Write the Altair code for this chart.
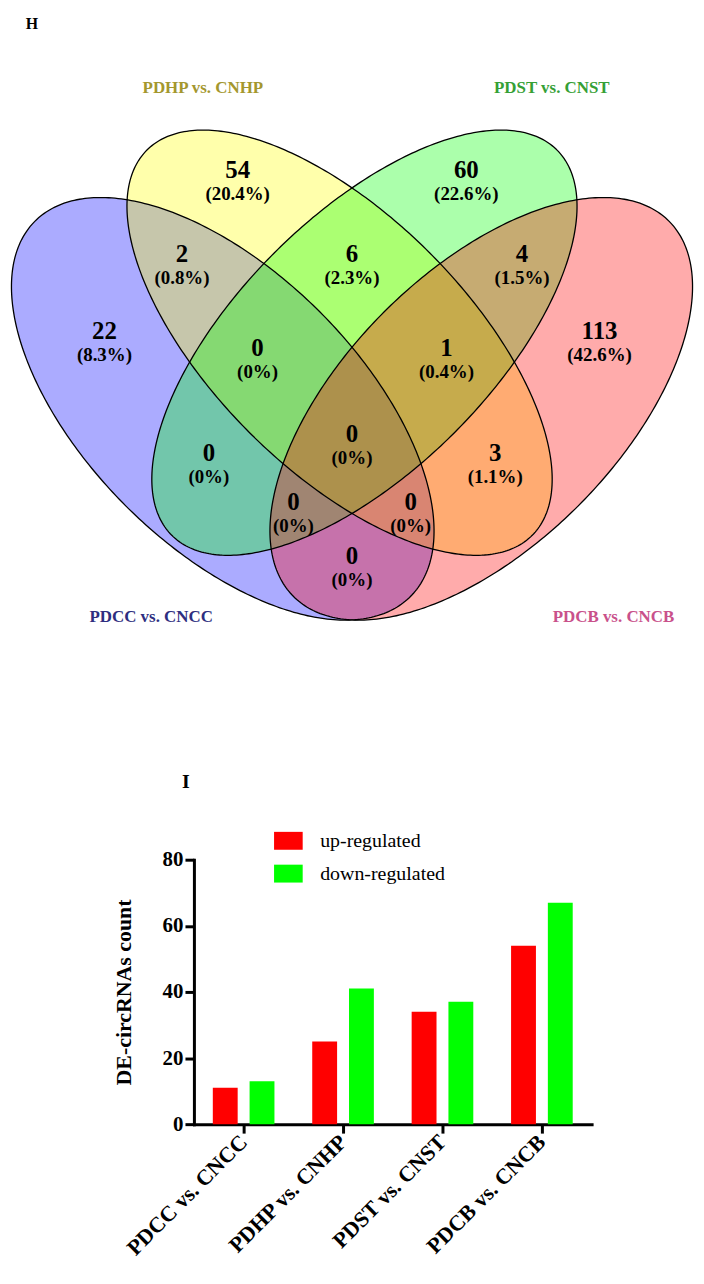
import altair as alt
import numpy as np
import pandas as pd

# ---------------- Panel H: four-set Venn diagram ----------------
set_names = ["PDCC vs. CNCC", "PDHP vs. CNHP", "PDST vs. CNST", "PDCB vs. CNCB"]
set_fill = ["#0000ff", "#ffff00", "#00ff00", "#ff0000"]
set_label_color = ["#2e2e80", "#a4972e", "#35a035", "#c9518b"]
# ellipse layout in the figure frame (y grows downward)
ell_cx = [222, 339.5, 364.5, 482]
ell_cy = [407.5, 341, 341, 407.5]
ell_a = [267, 274, 274, 267]
ell_b = [138, 128, 128, 138]
ell_angle = [45, 45, -45, -45]
set_label_x = [150, 202, 553, 615]
set_label_y = [617, 85, 85, 617]

region_count = [22, 54, 60, 113, 2, 6, 4, 0, 1, 0, 3, 0, 0, 0, 0]
region_pct = ["(8.3%)", "(20.4%)", "(22.6%)", "(42.6%)", "(0.8%)", "(2.3%)", "(1.5%)",
              "(0%)", "(0.4%)", "(0%)", "(1.1%)", "(0%)", "(0%)", "(0%)", "(0%)"]
region_x = [103, 237, 467, 601, 181, 352, 523, 257, 447, 208, 496, 352, 293, 411, 352]
region_y = [341, 179, 179, 341, 264, 264, 264, 358, 358, 464, 464, 445, 513, 513, 568]

panel_tags = ["H", "I"]
tag_x = [30]
tag_y = [20]

# ---------------- Panel I: bar chart ----------------
comparisons = ["PDCC vs. CNCC", "PDHP vs. CNHP", "PDST vs. CNST", "PDCB vs. CNCB"]
up_counts = [11, 25, 34, 54]
down_counts = [13, 41, 37, 67]
reg_names = ["up-regulated", "down-regulated"]
reg_colors = ["#ff0000", "#00ff00"]
y_ticks = [0, 20, 40, 60, 80]

serif = "Liberation Serif"


def ellipse_band(name, cx, cy, a, b, ang, n=241):
    phi = np.radians(ang)
    u = np.array([np.cos(phi), np.sin(phi)])
    v = np.array([-np.sin(phi), np.cos(phi)])
    S = a * a * np.outer(u, u) + b * b * np.outer(v, v)
    Q = np.linalg.inv(S)
    X = np.sqrt(S[0, 0])
    t = np.linspace(np.pi, 0, n)
    dx = X * np.cos(t)
    q11, q12, q22 = Q[0, 0], Q[0, 1], Q[1, 1]
    disc = np.clip((q12 * dx) ** 2 - q22 * (q11 * dx ** 2 - 1), 0, None)
    r = np.sqrt(disc)
    return pd.DataFrame({"set": name, "x": cx + dx,
                         "y1": cy + (-q12 * dx - r) / q22,
                         "y2": cy + (-q12 * dx + r) / q22})


def ellipse_ring(name, cx, cy, a, b, ang, n=360):
    phi = np.radians(ang)
    t = np.linspace(0, 2 * np.pi, n + 1)
    px = cx + a * np.cos(t) * np.cos(phi) - b * np.sin(t) * np.sin(phi)
    py = cy + a * np.cos(t) * np.sin(phi) + b * np.sin(t) * np.cos(phi)
    return pd.DataFrame({"set": name, "i": np.arange(n + 1), "x": px, "y": py})


band_df = pd.concat([ellipse_band(set_names[k], ell_cx[k], ell_cy[k], ell_a[k], ell_b[k], ell_angle[k])
                     for k in range(4)], ignore_index=True)
ring_df = pd.concat([ellipse_ring(set_names[k], ell_cx[k], ell_cy[k], ell_a[k], ell_b[k], ell_angle[k])
                     for k in range(4)], ignore_index=True)
region_df = pd.DataFrame({"n": [str(c) for c in region_count], "pct": region_pct,
                          "x": region_x, "y": region_y})
setlab_df = pd.DataFrame({"set": set_names, "x": set_label_x, "y": set_label_y})
tag_df = pd.DataFrame({"tag": panel_tags[:1], "x": tag_x, "y": tag_y})

VW, VH = 688, 640
xs = alt.Scale(domain=[8, 8 + VW], nice=False, zero=False)
ys = alt.Scale(domain=[8, 8 + VH], reverse=True, nice=False, zero=False)

layers = []
for k in range(4):
    layers.append(
        alt.Chart(band_df).transform_filter(alt.datum.set == set_names[k])
        .mark_area(color=set_fill[k], fillOpacity=0.33, strokeWidth=0)
        .encode(x=alt.X("x:Q", scale=xs, axis=None),
                y=alt.Y("y1:Q", scale=ys, axis=None), y2="y2:Q")
    )
layers.append(
    alt.Chart(ring_df).mark_line(color="black", strokeWidth=1.3)
    .encode(x=alt.X("x:Q", scale=xs, axis=None), y=alt.Y("y:Q", scale=ys, axis=None),
            detail="set:N", order="i:Q")
)
layers.append(
    alt.Chart(region_df).mark_text(font=serif, fontWeight="bold", fontSize=25, dy=-12,
                                   color="black", baseline="middle")
    .encode(x=alt.X("x:Q", scale=xs, axis=None), y=alt.Y("y:Q", scale=ys, axis=None), text="n:N")
)
layers.append(
    alt.Chart(region_df).mark_text(font=serif, fontWeight="bold", fontSize=19, dy=12,
                                   color="black", baseline="middle")
    .encode(x=alt.X("x:Q", scale=xs, axis=None), y=alt.Y("y:Q", scale=ys, axis=None), text="pct:N")
)
for k in range(4):
    layers.append(
        alt.Chart(setlab_df).transform_filter(alt.datum.set == set_names[k])
        .mark_text(font=serif, fontWeight="bold", fontSize=17, color=set_label_color[k], baseline="middle")
        .encode(x=alt.X("x:Q", scale=xs, axis=None), y=alt.Y("y:Q", scale=ys, axis=None), text="set:N")
    )
layers.append(
    alt.Chart(tag_df).mark_text(font=serif, fontWeight="bold", fontSize=16, color="black", baseline="middle")
    .encode(x=alt.X("x:Q", scale=xs, axis=None), y=alt.Y("y:Q", scale=ys, axis=None), text="tag:N")
)
venn = alt.layer(*layers).properties(width=VW, height=VH)

# ---------------- bar chart ----------------
bar_df = pd.DataFrame({
    "comparison": comparisons * 2,
    "regulation": [reg_names[0]] * 4 + [reg_names[1]] * 4,
    "count": up_counts + down_counts,
})

bars = alt.Chart(bar_df).mark_bar().encode(
    x=alt.X("comparison:N", sort=comparisons, title=None,
            scale=alt.Scale(paddingInner=0.38, paddingOuter=0.19),
            axis=alt.Axis(labelAngle=-45, labelAlign="right", labelBaseline="middle",
                          labelFont=serif, labelFontSize=22, labelFontWeight="bold", labelColor="black",
                          labelPadding=5, labelLimit=400, domainWidth=3, domainColor="black",
                          domainCap="square", tickWidth=3, tickSize=9, tickColor="black")),
    xOffset=alt.XOffset("regulation:N", sort=reg_names,
                        scale=alt.Scale(paddingInner=0.324, paddingOuter=0)),
    y=alt.Y("count:Q", scale=alt.Scale(domain=[0, 80], nice=False),
            axis=alt.Axis(values=y_ticks, grid=False, title="DE-circRNAs count",
                          labelFont=serif, labelFontSize=21, labelFontWeight="bold", labelColor="black",
                          labelPadding=2, domainWidth=3, domainColor="black", domainCap="square",
                          tickWidth=3, tickSize=9, tickColor="black",
                          titleFont=serif, titleFontSize=22, titleFontWeight="bold", titleColor="black",
                          titlePadding=27)),
    color=alt.Color("regulation:N", sort=reg_names,
                    scale=alt.Scale(domain=reg_names, range=reg_colors),
                    legend=alt.Legend(title=None, orient="none", legendX=270, legendY=-29,
                                      symbolType="M-1.6,-1H1.6V1H-1.6Z", symbolSize=324,
                                      symbolStrokeWidth=0, labelFont=serif, labelFontSize=20,
                                      labelColor="black", labelOffset=22, rowPadding=13, padding=0)),
).properties(
    width=400, height=266,
    title=alt.TitleParams(panel_tags[1], anchor="start", font=serif, fontSize=20, fontWeight="bold",
                          color="black", dx=70, offset=57),
)

spacer = alt.Chart(pd.DataFrame({"v": [0]})).mark_point(opacity=0).encode(
    x=alt.X("v:Q", axis=None), y=alt.Y("v:Q", axis=None)
).properties(width=103, height=266)

chart = alt.vconcat(
    venn, alt.hconcat(spacer, bars, spacing=0), spacing=125
).resolve_scale(color="independent", x="independent", y="independent").properties(
    padding=0
).configure_view(stroke=None)

chart.save("out.html", embed_options={"renderer": "svg", "actions": False})
